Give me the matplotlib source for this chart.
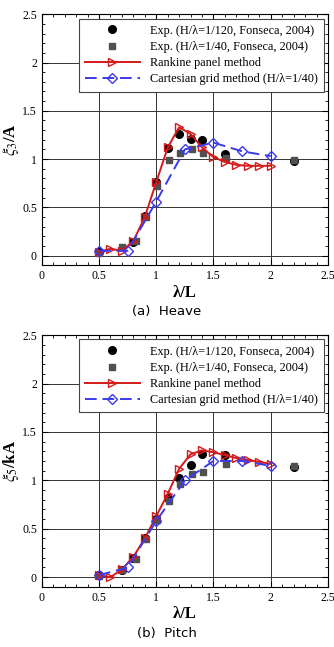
import matplotlib
matplotlib.use("Agg")
import matplotlib.pyplot as plt
import numpy as np
from matplotlib.ticker import MultipleLocator

plt.rcParams['font.family'] = ['Liberation Serif', 'DejaVu Serif']
plt.rcParams['mathtext.fontset'] = 'stix'

# ---------------- heave data ----------------
heave_exp120_x = [0.5, 0.8, 0.9, 1.0, 1.1, 1.2, 1.3, 1.4, 1.6, 2.2]
heave_exp120_y = [0.04, 0.14, 0.41, 0.76, 1.11, 1.26, 1.21, 1.20, 1.05, 0.98]
heave_exp40_x = [0.5, 0.7, 0.82, 0.91, 1.01, 1.11, 1.21, 1.31, 1.41, 1.61, 2.2]
heave_exp40_y = [0.03, 0.09, 0.15, 0.40, 0.72, 0.99, 1.06, 1.10, 1.06, 1.01, 0.99]
heave_rankine_x = [0.5, 0.6, 0.7, 0.8, 0.9, 1.0, 1.1, 1.2, 1.3, 1.4, 1.5, 1.6, 1.7, 1.8, 1.9, 2.0]
heave_rankine_y = [0.04, 0.07, 0.05, 0.15, 0.40, 0.76, 1.12, 1.33, 1.26, 1.12, 1.02, 0.97, 0.94, 0.93, 0.93, 0.93]
heave_cart_x = [0.5, 0.75, 1.0, 1.25, 1.5, 1.75, 2.0]
heave_cart_y = [0.05, 0.05, 0.56, 1.10, 1.17, 1.08, 1.03]

# ---------------- pitch data ----------------
pitch_exp120_x = [0.5, 0.7, 0.8, 0.9, 1.0, 1.1, 1.2, 1.3, 1.4, 1.6, 2.2]
pitch_exp120_y = [0.02, 0.07, 0.20, 0.40, 0.60, 0.82, 1.02, 1.16, 1.27, 1.26, 1.14]
pitch_exp40_x = [0.5, 0.7, 0.82, 0.91, 1.01, 1.11, 1.21, 1.31, 1.41, 1.61, 2.2]
pitch_exp40_y = [0.01, 0.07, 0.19, 0.39, 0.59, 0.79, 0.96, 1.07, 1.09, 1.17, 1.15]
pitch_rankine_x = heave_rankine_x
pitch_rankine_y = [0.02, 0.00, 0.08, 0.21, 0.40, 0.63, 0.86, 1.12, 1.27, 1.31, 1.29, 1.26, 1.23, 1.21, 1.19, 1.17]
pitch_cart_x = heave_cart_x
pitch_cart_y = [0.02, 0.10, 0.58, 1.00, 1.20, 1.20, 1.15]

labels = ['Exp. (H/\u03bb=1/120, Fonseca, 2004)',
          'Exp. (H/\u03bb=1/40, Fonseca, 2004)',
          'Rankine panel method',
          'Cartesian grid method (H/\u03bb=1/40)']

red = '#d41a1a'
blue = '#3a3aee'

fig = plt.figure(figsize=(3.34, 6.47), dpi=100)
ax1 = fig.add_axes([0.125, 0.590, 0.857, 0.388])
ax2 = fig.add_axes([0.125, 0.093, 0.857, 0.389])


def draw(ax, e120x, e120y, e40x, e40y, rx, ry, cx, cy, ylabel):
    ax.plot(e120x, e120y, 'o', color='black', ms=5.5, label=labels[0], zorder=3)
    ax.plot(e40x, e40y, 's', color='#505050', ms=4.8, label=labels[1], zorder=3)
    ax.plot(rx, ry, '-', color=red, lw=1.4, marker='>', ms=5.5, mfc='none',
            mec=red, mew=1.0, label=labels[2], zorder=4)
    ax.plot(cx, cy, '--', color=blue, lw=1.4, dashes=(6, 3), marker='D', ms=5,
            mfc='none', mec=blue, mew=1.0, label=labels[3], zorder=4)
    ax.set_xlim(0, 2.5)
    ax.set_ylim(-0.1, 2.5)
    ax.xaxis.set_major_locator(MultipleLocator(0.5))
    ax.yaxis.set_major_locator(MultipleLocator(0.5))
    ax.xaxis.set_minor_locator(MultipleLocator(0.1))
    ax.yaxis.set_minor_locator(MultipleLocator(0.1))
    ax.xaxis.set_major_formatter(plt.FuncFormatter(lambda v, p: '%g' % v))
    ax.yaxis.set_major_formatter(plt.FuncFormatter(lambda v, p: '%g' % v))
    ax.tick_params(which='both', direction='in', top=True, right=True, labelsize=8.5)
    ax.tick_params(which='major', length=4)
    ax.tick_params(which='minor', length=2)
    ax.grid(True, which='major', color='#333333', lw=0.7)
    ax.set_axisbelow(True)
    ax.set_xlabel('\u03bb/L', fontsize=12, fontweight='bold', labelpad=2)
    ax.set_ylabel(ylabel, fontsize=12, fontweight='bold', labelpad=1)
    leg = ax.legend(loc='upper right', fontsize=8.8, handlelength=4.5, fancybox=False,
                    framealpha=1, edgecolor='#444444', borderaxespad=0.35,
                    labelspacing=0.35, handletextpad=0.8, borderpad=0.5)
    leg.get_frame().set_linewidth(0.8)


draw(ax1, heave_exp120_x, heave_exp120_y, heave_exp40_x, heave_exp40_y,
     heave_rankine_x, heave_rankine_y, heave_cart_x, heave_cart_y, r'$\xi_3$/A')
draw(ax2, pitch_exp120_x, pitch_exp120_y, pitch_exp40_x, pitch_exp40_y,
     pitch_rankine_x, pitch_rankine_y, pitch_cart_x, pitch_cart_y, r'$\xi_5$/kA')

fig.text(0.5, 1 - 312 / 647, '(a)  Heave', ha='center', va='center', fontsize=9.5,
         family='DejaVu Sans')
fig.text(0.5, 1 - 633 / 647, '(b)  Pitch', ha='center', va='center', fontsize=9.5,
         family='DejaVu Sans')

fig.savefig('out.png', dpi=100)
